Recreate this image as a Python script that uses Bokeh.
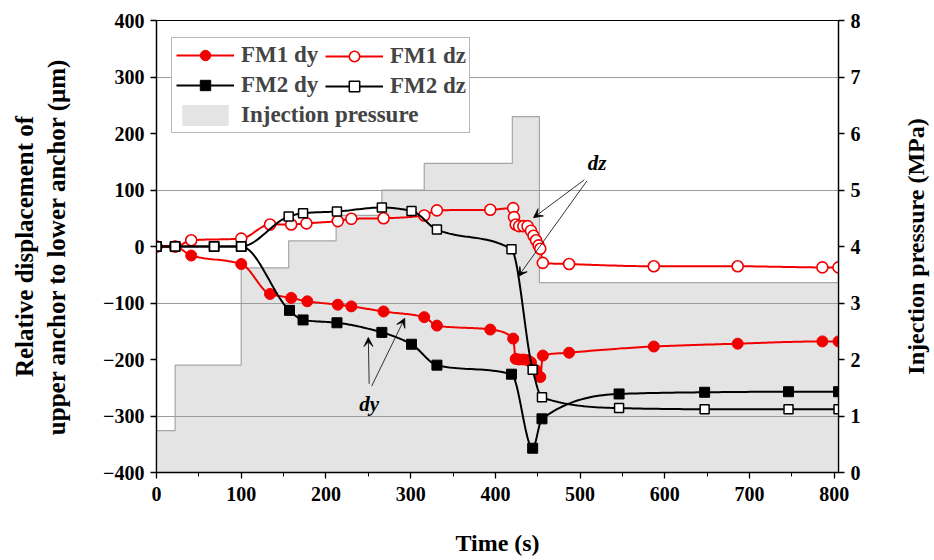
import numpy as np
from bokeh.plotting import figure
from bokeh.layouts import row
from bokeh.models import (Range1d, LinearAxis, FixedTicker, Legend, LegendItem,
                          Arrow, VeeHead, SingleIntervalTicker)
from bokeh.embed import file_html
from bokeh.resources import INLINE
from bokeh.core.properties import value

# ---------------- data ----------------
fm1_dy_t = [0, 22, 41, 100, 134, 159, 178, 214, 230, 268, 316, 331, 394, 421, 424, 428,
            433, 438, 442, 448, 453, 456, 487, 587, 686, 786, 805]
fm1_dy_v = [0, 0, -16, -31, -84, -91, -97, -103, -106, -115, -125, -140, -147, -163, -199, -200,
            -200, -201, -205, -219, -231, -193, -188, -177, -172, -168, -168]

fm1_dz_t = [0, 22, 41, 100, 134, 159, 177, 214, 230, 268, 316, 331, 394, 421, 422, 424, 428,
            433, 438, 442, 445, 448, 451, 453, 456, 487, 587, 686, 786, 805]
fm1_dz_v = [0, 0, 11, 14, 39, 39, 41, 45, 49, 50, 55, 64, 65, 68, 52, 39, 36,
            36, 36, 28, 19, 11, 2, -4, -29, -31, -35, -35, -37, -37]

fm2_dy_t = [0, 22, 68, 100, 157, 173, 213, 266, 301, 331, 419, 444, 455, 546, 647, 746, 805]
fm2_dy_v = [0, 0, 0, 0, -113, -130, -135, -152, -173, -210, -226, -357, -305, -261, -258, -257, -257]

fm2_dz_t = [0, 22, 68, 100, 156, 173, 213, 266, 301, 331, 419, 444, 455, 546, 647, 746, 805]
fm2_dz_v = [0, 0, 0, 0, 53, 59, 62, 69, 63, 30, -5, -218, -267, -286, -288, -288, -288]

pressure_t = [0, 22, 100, 156, 212, 266, 316, 420, 452, 805]
pressure_mpa = [0.74, 1.9, 3.62, 4.1, 4.55, 5.0, 5.47, 6.3, 3.36, 3.36]

RED = "#f20000"
FONT = "Liberation Serif"


def smooth(x, y, n=24):
    """Monotone cubic (PCHIP) path through the data points, for drawing the connecting line."""
    x = np.asarray(x, float)
    y = np.asarray(y, float)
    h = np.diff(x)
    d = np.diff(y) / h
    m = np.zeros_like(x)
    m[0], m[-1] = d[0], d[-1]
    for k in range(1, len(x) - 1):
        if d[k - 1] * d[k] > 0:
            w1 = 2 * h[k] + h[k - 1]
            w2 = h[k] + 2 * h[k - 1]
            m[k] = (w1 + w2) / (w1 / d[k - 1] + w2 / d[k])
    xs, ys = [], []
    for k in range(len(x) - 1):
        s = np.linspace(0, 1, n, endpoint=False)
        h00 = 2 * s**3 - 3 * s**2 + 1
        h10 = s**3 - 2 * s**2 + s
        h01 = -2 * s**3 + 3 * s**2
        h11 = s**3 - s**2
        xs.extend(x[k] + s * h[k])
        ys.extend(h00 * y[k] + h10 * h[k] * m[k] + h01 * y[k + 1] + h11 * h[k] * m[k + 1])
    xs.append(x[-1])
    ys.append(y[-1])
    return xs, ys


p = figure(width=890, height=560, x_range=Range1d(0, 805), y_range=Range1d(-400, 400),
           output_backend="svg", toolbar_location=None,
           min_border_left=156, min_border_right=52, min_border_top=20, min_border_bottom=88)
p.extra_y_ranges = {"p": Range1d(0, 8)}
p.background_fill_color = "white"
p.outline_line_color = "black"
p.outline_line_width = 1.2

# injection pressure (stepped area on right axis)
area = p.varea_step(x=pressure_t, y1=0, y2=pressure_mpa, step_mode="after", y_range_name="p",
                    fill_color="#e4e4e4", level="image")
p.step(x=pressure_t, y=pressure_mpa, mode="after", y_range_name="p", line_color="#a6a6a6",
       line_width=1.2, level="image")

# grid
p.xgrid.visible = False
p.ygrid.ticker = FixedTicker(ticks=[-300, -100, 100, 300])
p.ygrid.grid_line_color = "#9c9c9c"
p.ygrid.grid_line_width = 1

# series
def series(t, v, color, marker, size, fill, lw_marker):
    xs, ys = smooth(t, v)
    lr = p.line(xs, ys, line_color=color, line_width=2)
    sr = p.scatter(t, v, marker=marker, size=size, fill_color=fill, line_color=color,
                   line_width=lw_marker)
    return [lr, sr]

r_fm1_dy = series(fm1_dy_t, fm1_dy_v, RED, "circle", 11, RED, 1)
r_fm1_dz = series(fm1_dz_t, fm1_dz_v, RED, "circle", 11, "white", 1.6)
r_fm2_dy = series(fm2_dy_t, fm2_dy_v, "black", "square", 10, "black", 1)
r_fm2_dz = series(fm2_dz_t, fm2_dz_v, "black", "square", 9, "white", 1.5)

# annotations
p.text(x=[520], y=[147], text=["dz"], text_font=value(FONT), text_font_style="bold italic",
       text_font_size="21px", text_align="center", text_baseline="middle")
p.text(x=[251], y=[-278], text=["dy"], text_font=value(FONT), text_font_style="bold italic",
       text_font_size="21px", text_align="center", text_baseline="middle")
for xs_, ys_, xe, ye in [(505, 118, 445, 51), (508, 116, 427, -53),
                         (251, -243, 250, -161), (254, -247, 293, -127)]:
    p.add_layout(Arrow(end=VeeHead(size=9, fill_color="black", line_color="black", line_width=0.8),
                       x_start=xs_, y_start=ys_, x_end=xe, y_end=ye,
                       line_color="black", line_width=0.8))

# axes
p.xaxis.ticker = SingleIntervalTicker(interval=100, num_minor_ticks=2)
p.yaxis.ticker = SingleIntervalTicker(interval=100)
p.xaxis.axis_label = "Time (s)"
p.yaxis.axis_label = "Relative displacement of\nupper anchor to lower anchor (\u03bcm)"
right = LinearAxis(y_range_name="p", ticker=SingleIntervalTicker(interval=1))
p.add_layout(right, "right")

for ax in [p.xaxis[0], p.yaxis[0], right]:
    ax.axis_line_color = "black"
    ax.axis_line_width = 1.3
    ax.major_tick_line_color = "black"
    ax.major_tick_line_width = 1.3
    ax.major_tick_in = 0
    ax.major_tick_out = 6
    ax.minor_tick_in = 0
    ax.minor_tick_out = 4
    ax.minor_tick_line_color = "black"
    ax.major_label_text_font = FONT
    ax.major_label_text_font_style = "bold"
    ax.major_label_text_font_size = "20px"
    ax.major_label_text_color = "black"
    ax.axis_label_text_font = FONT
    ax.axis_label_text_font_style = "bold"
    ax.axis_label_text_color = "black"
    ax.axis_label_text_font_size = "24px"
p.yaxis[0].minor_tick_line_color = None
right.minor_tick_line_color = None
p.yaxis[0].axis_label_text_font_size = "25px"
p.yaxis[0].axis_label_standoff = 30
p.xaxis[0].axis_label_standoff = 26
p.xaxis[0].major_label_standoff = 8
p.yaxis[0].major_label_standoff = 6
right.major_label_standoff = 6

# legends
common = dict(label_text_font=FONT, label_text_font_style="bold", label_text_font_size="23px",
              glyph_width=58, glyph_height=26, label_height=26, label_standoff=7,
              spacing=4, padding=4, margin=0)
leg1 = Legend(items=[LegendItem(label="FM1 dy", renderers=r_fm1_dy),
                     LegendItem(label="FM2 dy", renderers=r_fm2_dy),
                     LegendItem(label="Injection pressure", renderers=[area])],
              location=(15, 339), label_width=224, border_line_color="#707070",
              border_line_width=1, background_fill_color="white", background_fill_alpha=1,
              **common)
leg2 = Legend(items=[LegendItem(label="FM1 dz", renderers=r_fm1_dz),
                     LegendItem(label="FM2 dz", renderers=r_fm2_dz)],
              location=(165, 369), border_line_alpha=0, background_fill_alpha=0, **common)
p.add_layout(leg1)
p.add_layout(leg2)

# narrow strip on the right carrying the right-axis title, read bottom-to-top
t = figure(width=44, height=560, x_range=Range1d(0, 44), y_range=Range1d(-400, 400),
           x_axis_type=None, y_axis_type=None, output_backend="svg", toolbar_location=None,
           min_border_left=0, min_border_right=0, min_border_top=20, min_border_bottom=88)
t.grid.visible = False
t.outline_line_color = None
t.text(x=[25], y=[0], text=["Injection pressure (MPa)"], angle=np.pi / 2,
       text_font=value(FONT), text_font_style="bold", text_font_size="24px",
       text_align="center", text_baseline="middle", text_color="black")

layout = row(p, t, spacing=0)
open("out.html", "w").write(file_html(layout, INLINE))
